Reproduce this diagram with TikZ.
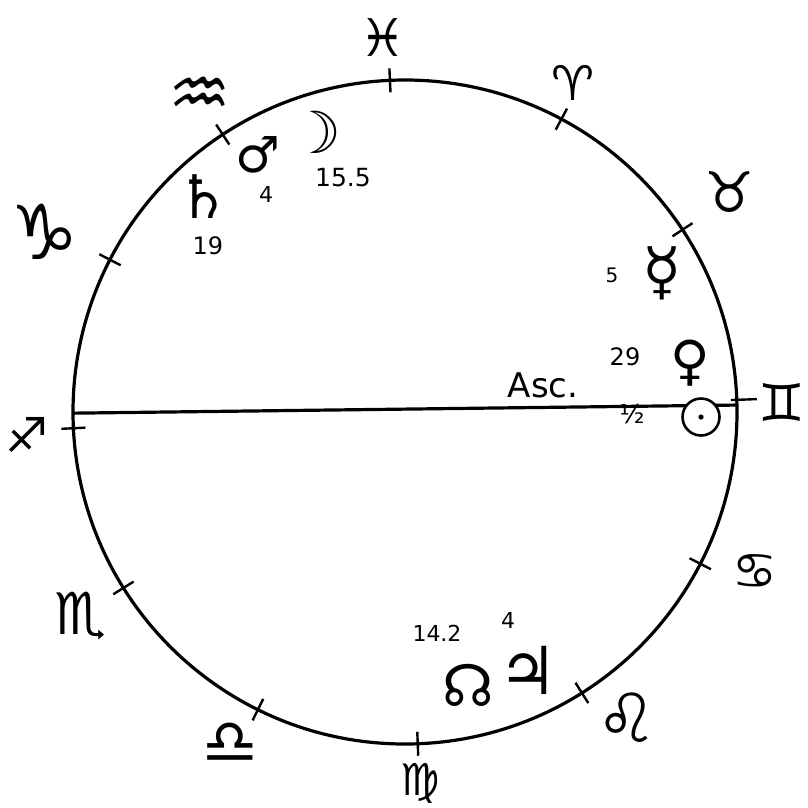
\documentclass[tikz,border=0pt]{standalone}
\usepackage{fontspec}
\setmainfont{DejaVu Sans}
\usetikzlibrary{calc}
\newcommand{\fsz}[1]{\fontsize{#1}{#1}\selectfont}
\begin{document}
\begin{tikzpicture}[x=1pt,y=-1pt,
  ring/.style={line width=3.2pt},
  tickmark/.style={line width=2.4pt},
  sign/.style={inner sep=0pt},
  planet/.style={inner sep=0pt},
  deg/.style={inner sep=0pt, font=\fsz{24}},
  sunring/.style={draw, circle, fill=white, line width=2.6pt, minimum size=37pt, inner sep=0pt},
]
\useasboundingbox (0,0) rectangle (808,807);
\fill[white] (0,0) rectangle (808,807);
\coordinate (c) at (405,412);
% wheel
\draw[ring] (c) circle (332pt);
% sign boundary ticks (math angles)
\foreach \a in {92.6,61.9,33.3,-27.2,-57.8,-87.8,-116.3,-148,182.8,152.7,123.3} {
  \draw[tickmark] ($(c)+(-\a:320)$) -- ($(c)+(-\a:344)$);
}
\draw[tickmark] ($(c)+(-2.1:326)$) -- ($(c)+(-2.1:352)$);
% ascendant line
\coordinate (ascL) at ($(c)+(-180.2:332)$);
\coordinate (ascR) at ($(c)+(-1.2:332)$);
\draw[ring] (ascL) -- (ascR);
% sun
\node[sunring] (sun) at (701,417) {};
\fill (sun.center) circle (2.6pt);
% signs
\node[sign, font=\fsz{52}] (pis) at (383,38) {♓};
\node[sign, font=\fsz{48}] (ari) at (573,83) {♈};
\node[sign, font=\fsz{56}] (tau) at (730,192) {♉};
\node[sign, font=\fsz{52}] (gem) at (782,402) {♊};
\node[sign, font=\fsz{50}] (can) at (755,572) {♋};
\node[sign, font=\fsz{68}] (leo) at (627,718) {♌};
\node[sign, font=\fsz{44}] (vir) at (420,783) {♍};
\node[sign, font=\fsz{62}] (lib) at (230,743) {♎};
\node[sign, font=\fsz{58}] (sco) at (80,616) {♏};
\node[sign, font=\fsz{48}] (sag) at (27,435) {♐};
\node[sign, font=\fsz{76}] (cap) at (45,232) {♑};
\node[sign, font=\fsz{70}] (aqu) at (200,97) {♒};
% planets
\node[planet, font=\fsz{60}] (sat) at (203,197) {♄};
\node[deg, font=\fsz{24}] (satd) at (208,246) {19};
\node[planet, font=\fsz{50}] (mar) at (258,155) {♂};
\node[deg, font=\fsz{22}] (mard) at (266,194) {4};
\node[planet, font=\fsz{58}] (moo) at (315,132) {☽};
\node[deg, font=\fsz{25}] (mood) at (343,178) {15.5};
\node[planet, font=\fsz{64}] (mer) at (662,273) {☿};
\node[deg, font=\fsz{20}] (merd) at (612,275) {5};
\node[planet, font=\fsz{54}] (ven) at (690,363) {♀};
\node[deg, font=\fsz{24}] (vend) at (625,357) {29};
\node[inner sep=0pt, font=\fsz{34}] (asc) at (543,385) {Asc.};
\node[deg, font=\fsz{26}] (half) at (632,414) {½};
\node[planet, font=\fsz{58}] (nod) at (468,685) {☊};
\node[deg, font=\fsz{22}] (nodd) at (437,633) {14.2};
\node[planet, font=\fsz{66}] (jup) at (528,670) {♃};
\node[deg, font=\fsz{22}] (jupd) at (508,620) {4};
\end{tikzpicture}
\end{document}
